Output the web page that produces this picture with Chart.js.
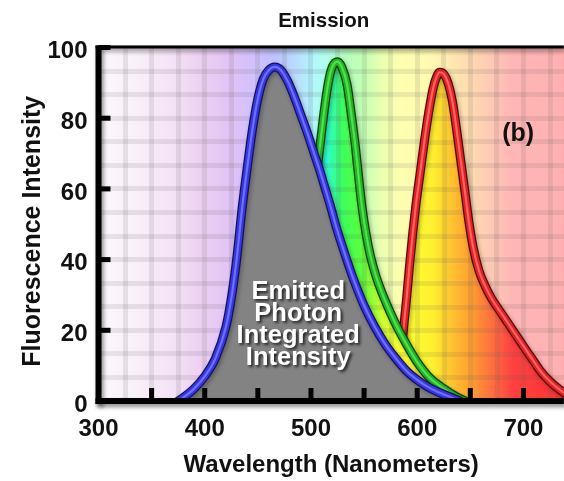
<!DOCTYPE html>
<html>
<head>
<meta charset="utf-8">
<title>Emission</title>
<script src="https://cdn.jsdelivr.net/npm/chart.js@4/dist/chart.umd.min.js"></script>
<style>
  html, body { margin: 0; padding: 0; background: #ffffff; }
  #c { display: block; }
</style>
</head>
<body>
<canvas id="c" width="564" height="481"></canvas>
<script>
// Emission spectra: wavelength (nm) and fluorescence intensity for each curve
const blueNm  = [375, 380, 390, 400, 410, 420, 425, 430, 435, 440, 445, 450, 455, 460, 466, 472, 478, 485, 491, 497, 503, 508, 513, 518, 524, 532, 540, 550, 560, 570, 580, 590, 600, 610, 620, 630, 640];
const blueVal = [0, 1, 3.5, 7, 12, 21, 29, 40, 54, 66, 77, 85.5, 91, 93.5, 94.5, 93.5, 90.5, 85.5, 80.5, 75.5, 70, 65.5, 60.5, 55.5, 49, 41.5, 34.5, 27, 21, 16, 12, 8.5, 6, 4, 2.5, 1.3, 0];

const greenNm  = [450, 470, 485, 495, 502, 508, 512, 516, 520, 525, 529, 534, 538, 542, 545, 548, 552, 556, 561, 567, 574, 581, 590, 600, 612, 625, 637, 645];
const greenVal = [0, 5, 18, 38, 56, 71, 81, 89.5, 94.5, 96, 94.5, 89.5, 81, 71.5, 63, 55, 47, 41, 35.5, 30.5, 25.5, 21, 16, 11, 6.5, 3.5, 1.2, 0];

const redNm  = [575, 580, 584, 587, 590, 593, 596, 599, 603, 607, 611, 615, 618, 621, 625, 629, 633, 637, 641, 645, 649, 653, 658, 664, 670, 680, 690, 700, 708, 716, 725, 735, 745];
const redVal = [0, 3, 10, 20, 29, 39, 48, 56, 65, 74, 82, 88.5, 91.5, 93, 92.5, 90, 85, 77, 68, 59, 50, 43, 37, 32.5, 29, 24.5, 20, 15.5, 12, 8.5, 5.5, 3, 1];

// Axis labelling
const xTickLabels = [300, 400, 500, 600, 700];
const xMarkValues = [350, 400, 450, 500, 550, 600, 650, 700];
const yTickLabels = [0, 20, 40, 60, 80, 100];

const FONT = '"Liberation Sans", Arial, Helvetica, sans-serif';
const INK = '#111111';
const GRID_COLOR = 'rgba(95, 95, 95, 0.13)';
const GRID_WIDTH = 5;

// Visible-spectrum colour ramp, keyed by wavelength
const spectrum = [
  [300, '#f6ecf6'], [330, '#f0dcf0'], [370, '#e2b4e6'], [400, '#cc80dc'],
  [425, '#b060e8'], [445, '#8a5cf8'], [465, '#5a5cff'], [485, '#4aa0ff'],
  [503, '#30eef8'], [516, '#30ffc8'], [530, '#3cff5c'], [548, '#5cff3c'],
  [566, '#c8ff30'], [585, '#ffff30'], [615, '#fff030'], [630, '#ffc830'],
  [650, '#ffa030'], [670, '#ff7040'], [690, '#ff4040'], [740, '#ff3232']
];

// Background grid: every 25 nm and every 1/15 of the intensity range
const xGrid = [];
for (let v = 300; v <= 725; v += 25) xGrid.push(v);
const yGrid = [];
for (let i = 0; i <= 15; i++) yGrid.push(i * 100 / 15);

function points(nm, val) {
  return nm.map((x, i) => ({ x, y: val[i] }));
}

function spectrumGradient(ctx, chart) {
  const a = chart.chartArea;
  const xs = chart.scales.x;
  const w = a.right - a.left;
  const g = ctx.createLinearGradient(a.left, 0, a.right, 0);
  spectrum.forEach(([nm, col]) => {
    const p = Math.min(1, Math.max(0, (xs.getPixelForValue(nm) - a.left) / w));
    g.addColorStop(p, col);
  });
  return g;
}

function strokeGrid(ctx, chart) {
  const a = chart.chartArea;
  const xs = chart.scales.x, ys = chart.scales.y;
  ctx.save();
  ctx.strokeStyle = GRID_COLOR;
  ctx.lineWidth = GRID_WIDTH;
  ctx.beginPath();
  xGrid.forEach(v => { const p = Math.round(xs.getPixelForValue(v)) + 0.5; ctx.moveTo(p, a.top); ctx.lineTo(p, a.bottom); });
  ctx.stroke();
  ctx.beginPath();
  yGrid.forEach(v => { const p = Math.round(ys.getPixelForValue(v)) + 0.5; ctx.moveTo(a.left, p); ctx.lineTo(a.right, p); });
  ctx.stroke();
  ctx.restore();
}

// Saturated spectrum (with grid) used to fill the green and red emission bands
let fillCache = null;
function spectrumFill(context) {
  const chart = context.chart;
  const a = chart.chartArea;
  if (!a || !chart.scales || !chart.scales.x) return 'rgba(0,0,0,0)';
  const key = [a.left, a.top, a.right, a.bottom, chart.width, chart.height].join(',');
  if (fillCache && fillCache.key === key) return fillCache.pattern;
  const off = document.createElement('canvas');
  off.width = chart.width;
  off.height = chart.height;
  const o = off.getContext('2d');
  o.fillStyle = spectrumGradient(o, chart);
  o.fillRect(a.left, a.top, a.right - a.left, a.bottom - a.top);
  strokeGrid(o, chart);
  const pattern = chart.ctx.createPattern(off, 'no-repeat');
  fillCache = { key, pattern };
  return pattern;
}

// Each curve is drawn as a tube: dark rim (carrying the fill), coloured body, light core
function tube(label, data, fill, colors, baseOrder) {
  const common = { data, pointRadius: 0, pointHoverRadius: 0, tension: 0.4, cubicInterpolationMode: 'monotone', borderJoinStyle: 'round', borderCapStyle: 'round' };
  return [
    Object.assign({ label: label + ' rim', borderColor: colors[0], borderWidth: 9, fill: 'origin', backgroundColor: fill, order: baseOrder + 2, rim: true }, common),
    Object.assign({ label: label, borderColor: colors[1], borderWidth: 6.5, fill: false, order: baseOrder + 1 }, common),
    Object.assign({ label: label + ' core', borderColor: colors[2], borderWidth: 2.2, fill: false, order: baseOrder }, common)
  ];
}

const datasets = [].concat(
  tube('Red', points(redNm, redVal), spectrumFill, ['#520a0a', '#e02222', '#ff6262'], 7),
  tube('Green', points(greenNm, greenVal), spectrumFill, ['#0a420a', '#20b420', '#52e052'], 4),
  tube('Blue', points(blueNm, blueVal), '#838383', ['#12125a', '#3636e2', '#6e6eff'], 1)
);

// Pale spectrum behind the plot
const pastelBackdrop = {
  id: 'pastelBackdrop',
  beforeDraw(chart) {
    const { ctx, chartArea: a } = chart;
    ctx.save();
    ctx.fillStyle = spectrumGradient(ctx, chart);
    ctx.fillRect(a.left, a.top, a.right - a.left, a.bottom - a.top);
    ctx.fillStyle = 'rgba(255,255,255,0.62)';
    ctx.fillRect(a.left, a.top, a.right - a.left, a.bottom - a.top);
    ctx.restore();
  }
};

// Soft shadow under the curve rims
const rimShadow = {
  id: 'rimShadow',
  beforeDatasetDraw(chart, args) {
    const ds = chart.data.datasets[args.index];
    if (!ds.rim) return;
    const ctx = chart.ctx;
    ctx.save();
    ctx.shadowColor = 'rgba(0,0,0,0.3)';
    ctx.shadowBlur = 4;
    ctx.shadowOffsetX = 1.5;
    ctx.shadowOffsetY = 2;
  },
  afterDatasetDraw(chart, args) {
    const ds = chart.data.datasets[args.index];
    if (!ds.rim) return;
    chart.ctx.restore();
  }
};

// Titles and annotations
const plotNotes = {
  id: 'plotNotes',
  afterDatasetsDraw(chart) {
    const { ctx, chartArea: a, scales: { x, y } } = chart;
    ctx.save();
    ctx.textAlign = 'center';
    ctx.textBaseline = 'middle';

    ctx.fillStyle = INK;
    ctx.font = 'bold 20.5px ' + FONT;
    ctx.fillText('Emission', x.getPixelForValue(512), 21);

    // vertical axis title, centred a little below the middle of the axis
    ctx.save();
    ctx.translate(33, (a.top + a.bottom) / 2 + 7);
    ctx.rotate(-Math.PI / 2);
    ctx.font = 'bold 25px ' + FONT;
    ctx.fillText('Fluorescence Intensity', 0, 0);
    ctx.restore();

    ctx.font = 'bold 25px ' + FONT;
    ctx.fillText('(b)', x.getPixelForValue(695), y.getPixelForValue(75.5));

    ctx.font = 'bold 25.5px ' + FONT;
    ctx.fillStyle = '#ffffff';
    ctx.shadowColor = 'rgba(0,0,0,0.75)';
    ctx.shadowBlur = 3;
    ctx.shadowOffsetX = 2;
    ctx.shadowOffsetY = 2;
    const cx = x.getPixelForValue(488);
    const cy = y.getPixelForValue(21.5);
    ['Emitted', 'Photon', 'Integrated', 'Intensity'].forEach((t, i) => {
      ctx.fillText(t, cx, cy + (i - 1.5) * 21.7);
    });
    ctx.restore();
  }
};

// Heavy axis frame with inward tick marks
const axisFrame = {
  id: 'axisFrame',
  afterDraw(chart) {
    const { ctx, chartArea: a, scales: { x, y } } = chart;
    ctx.save();
    ctx.fillStyle = '#000000';
    ctx.shadowColor = 'rgba(0,0,0,0.45)';
    ctx.shadowBlur = 4;
    ctx.shadowOffsetX = 2;
    ctx.shadowOffsetY = 3;
    ctx.fillRect(a.left - 3, a.top - 2, a.right - a.left + 3, 3);
    ctx.fillRect(a.left - 3, a.top - 2, 6, a.bottom - a.top + 5);
    ctx.fillRect(a.left - 3, a.bottom - 3, a.right - a.left + 3, 6);
    ctx.shadowColor = 'transparent';
    xMarkValues.forEach(v => {
      const p = x.getPixelForValue(v);
      ctx.fillRect(p - 2.5, a.bottom - 13, 5, 11);
    });
    yTickLabels.forEach(v => {
      if (v === 0) return;
      const p = y.getPixelForValue(v);
      ctx.fillRect(a.left, p - 2.5, 12, 5);
    });
    ctx.restore();
  }
};

const tickFont = { family: FONT, size: 24, weight: 'bold' };

new Chart(document.getElementById('c'), {
  type: 'line',
  data: { datasets },
  options: {
    responsive: false,
    animation: false,
    devicePixelRatio: 1,
    layout: { padding: { top: 47.5, left: 0, right: 0, bottom: 0 } },
    plugins: {
      legend: { display: false },
      tooltip: { enabled: false },
      title: { display: false }
    },
    scales: {
      x: {
        type: 'linear',
        min: 300,
        max: 738,
        afterBuildTicks: s => { s.ticks = xGrid.map(v => ({ value: v })); },
        afterFit: s => { s.height = 80; },
        grid: { color: GRID_COLOR, lineWidth: GRID_WIDTH, drawTicks: false },
        border: { display: false },
        ticks: {
          autoSkip: false,
          maxRotation: 0,
          padding: 14,
          color: INK,
          font: tickFont,
          callback: v => (xTickLabels.includes(v) ? String(v) : '')
        },
        title: { display: true, text: 'Wavelength (Nanometers)', color: INK, font: { family: FONT, size: 24, weight: 'bold' }, padding: { top: 0, bottom: 1 } }
      },
      y: {
        type: 'linear',
        min: 0,
        max: 100,
        afterBuildTicks: s => { s.ticks = yGrid.map(v => ({ value: v })); },
        afterFit: s => { s.width = 98.5; },
        grid: { color: GRID_COLOR, lineWidth: GRID_WIDTH, drawTicks: false },
        border: { display: false },
        ticks: {
          autoSkip: false,
          padding: 11,
          labelOffset: 4,
          color: INK,
          font: tickFont,
          callback: v => {
            const l = yTickLabels.find(t => Math.abs(t - v) < 1e-6);
            return l === undefined ? '' : String(l);
          }
        },
        title: { display: false }
      }
    }
  },
  plugins: [pastelBackdrop, rimShadow, plotNotes, axisFrame]
});
</script>
</body>
</html>
